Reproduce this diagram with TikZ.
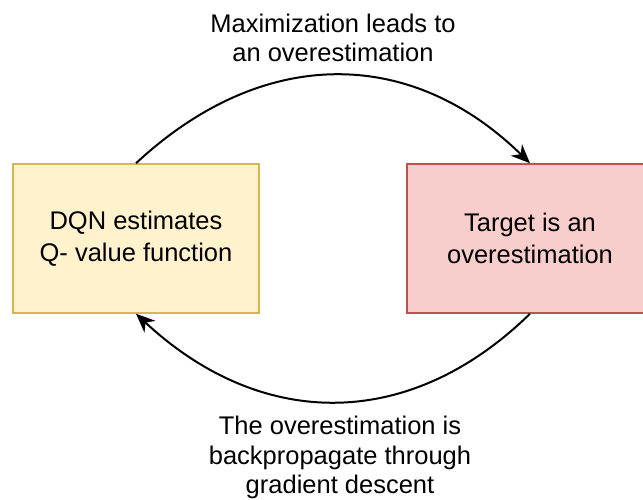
\documentclass[tikz,border=0pt]{standalone}
\usepackage{fontspec}
\setmainfont{Liberation Sans}
\usetikzlibrary{arrows.meta}
\definecolor{yfill}{HTML}{FFF2CC}
\definecolor{ydraw}{HTML}{D6B656}
\definecolor{rfill}{HTML}{F8CECC}
\definecolor{rdraw}{HTML}{B85450}
\begin{document}
\begin{tikzpicture}[x=1pt,y=-1pt,
  box/.style={minimum width=246pt,minimum height=149pt,line width=1.5pt,inner sep=0pt,align=center,font=\fontsize{25.5}{32.5}\selectfont},
  lbl/.style={align=center,font=\fontsize{25.5}{29.5}\selectfont},
  conn/.style={line width=2pt,-{Stealth[length=19pt,width=16pt,inset=6pt]}}]
\useasboundingbox (0,0) rectangle (643,499);
\begin{scope}
\clip (0,0) rectangle (643,499);
\node[box,fill=yfill,draw=ydraw] (L) at (136,238.5) {DQN estimates\\Q- value function};
\node[box,fill=rfill,draw=rdraw] (R) at (530,238.5) {Target is an\\overestimation};
\end{scope}
\node[lbl] (T) at (333,38) {Maximization leads to\\an overestimation};
\node[lbl] (B) at (340,457.5) {The overestimation is\\backpropagate through\\gradient descent};
\draw[conn] (L.north) .. controls (262,46) and (410,46) .. (R.north);
\draw[conn] (R.south) .. controls (410,431) and (262,431) .. (L.south);
\end{tikzpicture}
\end{document}
